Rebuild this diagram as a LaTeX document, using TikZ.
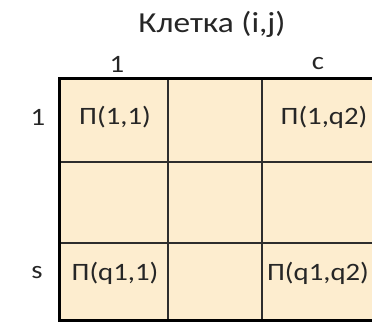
\documentclass[tikz,border=0pt]{standalone}
\usepackage{fontspec}
\setmainfont{Carlito}
\definecolor{cellfill}{RGB}{253,237,207}
\definecolor{gridline}{RGB}{45,45,45}
\begin{document}
\begin{tikzpicture}[x=1pt,y=-1pt,
  txt/.style={inner sep=0pt, text=black!85, font=\fontsize{25}{30}\selectfont, xscale=1.15},
  ttl/.style={inner sep=0pt, text=black!85, font=\fontsize{29}{34}\selectfont, xscale=1.15},
  inner/.style={draw=gridline, line width=1.6pt},
  outer/.style={draw=black, line width=3pt}]
\useasboundingbox (0,0) rectangle (372,323);
\fill[cellfill] (59,79) rectangle (380,320);
\draw[inner] (168,79) -- (168,320);
\draw[inner] (262,79) -- (262,320);
\draw[inner] (59,162) -- (380,162);
\draw[inner] (59,243) -- (380,243);
\draw[outer] (380,79) -- (59,79) -- (59,320) -- (380,320);
\node[ttl] (title) at (212,24) {Клетка (i,j)};
\node[txt] (c1) at (117,64) {1};
\node[txt] (cc) at (318,64) {c};
\node[txt] (r1) at (38,117) {1};
\node[txt] (rs) at (37,273) {s};
\node[txt] (p11) at (115,117) {П(1,1)};
\node[txt] (p1q) at (324,117) {П(1,q2)};
\node[txt] (pq1) at (115,273) {П(q1,1)};
\node[txt] (pqq) at (318,273) {П(q1,q2)};
\end{tikzpicture}
\end{document}
